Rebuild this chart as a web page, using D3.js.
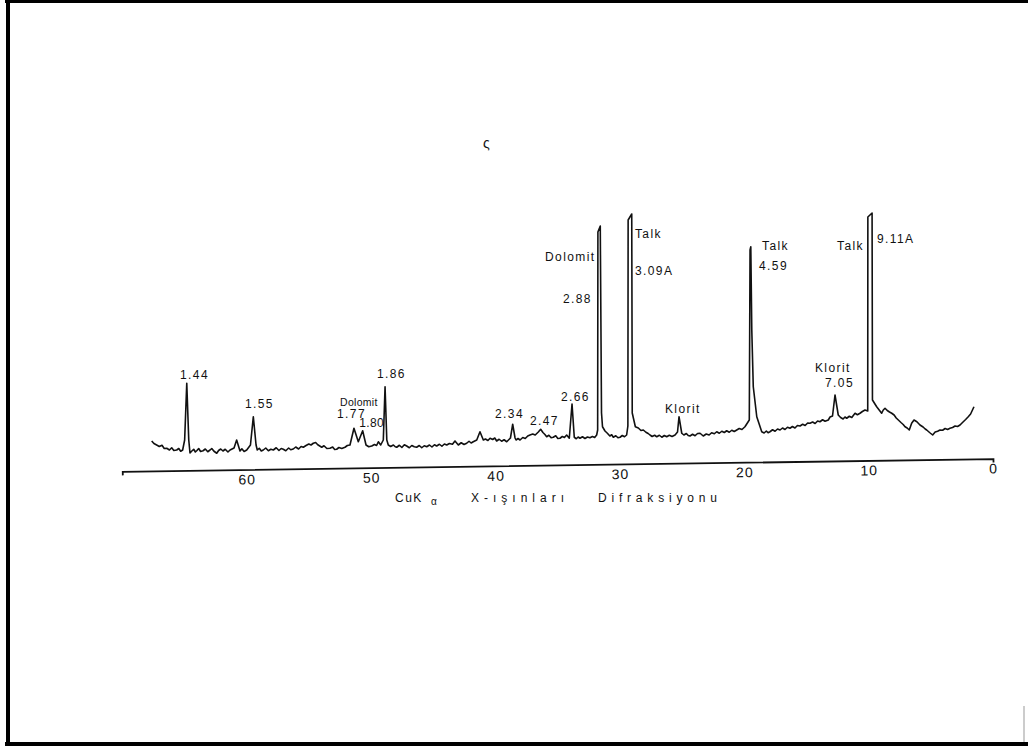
<!DOCTYPE html>
<html>
<head>
<meta charset="utf-8">
<script src="https://cdn.jsdelivr.net/npm/d3@7"></script>
<style>
  html, body { margin: 0; padding: 0; background: #fff; }
  svg { display: block; }
  text { font-family: "Liberation Sans", Arial, sans-serif; fill: #111; }
</style>
</head>
<body>
<svg id="chart" width="1028" height="748"></svg>
<script>
// ---- data: 2-theta (degrees, CuKα) and relative intensity ----
const twoTheta = [
  67.63, 67.45, 67.23, 67.02, 66.80, 66.62, 66.42, 66.20, 66.02, 65.85,
  65.62, 65.45, 65.30, 65.14, 64.98, 64.81, 64.65, 64.55, 64.42, 64.25,
  64.12, 64.01, 63.85, 63.70, 63.50, 63.32, 63.12, 62.94, 62.80, 62.62,
  62.40, 62.25, 62.08, 61.90, 61.72, 61.50, 61.33, 61.01, 60.80, 60.53,
  60.38, 60.20, 59.99, 59.69, 59.46, 59.24, 59.14, 58.98, 58.82, 58.66,
  58.46, 58.25, 58.05, 57.85, 57.62, 57.40, 57.22, 57.05, 56.85, 56.62,
  56.45, 56.25, 56.05, 55.82, 55.62, 55.44, 55.22, 55.00, 54.82, 54.64,
  54.45, 54.28, 54.12, 53.96, 53.78, 53.55, 53.30, 53.08, 52.92, 52.76,
  52.58, 52.35, 52.09, 51.90, 51.69, 51.37, 51.02, 50.67, 50.40, 50.18,
  49.94, 49.72, 49.55, 49.41, 49.22, 49.01, 48.87, 48.73, 48.61, 48.42,
  48.20, 48.05, 47.93, 47.72, 47.52, 47.32, 47.13, 46.92, 46.72, 46.52,
  46.33, 46.12, 45.92, 45.72, 45.52, 45.30, 45.10, 44.90, 44.72, 44.50,
  44.30, 44.10, 43.91, 43.70, 43.45, 43.25, 42.98, 42.75, 42.52, 42.31,
  42.12, 41.95, 41.78, 41.50, 41.24, 40.97, 40.80, 40.60, 40.43, 40.22,
  40.05, 39.90, 39.70, 39.50, 39.30, 39.09, 38.79, 38.61, 38.42, 38.34,
  38.18, 38.02, 37.80, 37.60, 37.40, 37.22, 37.00, 36.80, 36.55, 36.36,
  36.18, 36.02, 35.88, 35.70, 35.52, 35.35, 35.15, 34.98, 34.81, 34.62,
  34.45, 34.27, 34.06, 33.84, 33.66, 33.50, 33.35, 33.20, 33.00, 32.80,
  32.60, 32.40, 32.20, 32.02, 31.86, 31.78, 31.76, 31.57, 31.47, 31.39,
  31.19, 31.00, 30.80, 30.65, 30.52, 30.32, 30.15, 29.98, 29.80, 29.62,
  29.45, 29.35, 29.33, 29.04, 29.00, 28.75, 28.51, 28.30, 28.11, 27.90,
  27.72, 27.57, 27.40, 27.20, 27.03, 26.82, 26.62, 26.42, 26.23, 26.02,
  25.80, 25.56, 25.36, 25.24, 25.02, 24.85, 24.65, 24.50, 24.36, 24.15,
  23.95, 23.75, 23.55, 23.29, 23.05, 22.82, 22.62, 22.40, 22.21, 22.00,
  21.80, 21.60, 21.41, 21.20, 21.00, 20.80, 20.60, 20.40, 20.18, 19.94,
  19.59, 19.53, 19.47, 19.39, 19.27, 18.99, 18.59, 18.40, 18.22, 18.08,
  17.93, 17.72, 17.52, 17.32, 17.12, 16.92, 16.72, 16.52, 16.32, 16.12,
  15.92, 15.72, 15.51, 15.30, 15.10, 14.90, 14.71, 14.50, 14.30, 14.10,
  13.91, 13.70, 13.50, 13.24, 13.10, 12.90, 12.70, 12.44, 12.25, 12.05,
  11.90, 11.76, 11.55, 11.35, 11.20, 11.09, 10.90, 10.69, 10.50, 10.29,
  10.07, 10.06, 9.72, 9.69, 9.35, 9.15, 8.95, 8.82, 8.68, 8.50,
  8.32, 8.14, 7.95, 7.78, 7.61, 7.40, 7.22, 7.07, 6.90, 6.73,
  6.54, 6.35, 6.12, 5.87, 5.62, 5.45, 5.33, 5.10, 4.85, 4.65,
  4.45, 4.26, 4.05, 3.85, 3.65, 3.46, 3.25, 3.05, 2.85, 2.65,
  2.45, 2.20, 1.99, 1.80, 1.53
];
const intensity = [
  9.6, 8.6, 8.0, 7.4, 7.9, 6.6, 6.7, 6.0, 6.9, 5.8,
  6.0, 6.6, 5.5, 6.0, 10.0, 32.7, 10.0, 4.8, 5.5, 6.3,
  5.2, 5.7, 6.6, 5.4, 5.7, 6.4, 5.3, 6.0, 6.6, 5.5,
  4.7, 5.8, 6.4, 5.6, 6.3, 5.2, 6.0, 6.8, 10.0, 5.6,
  6.5, 5.4, 6.0, 8.0, 19.3, 8.0, 6.0, 6.7, 5.6, 6.0,
  6.8, 5.7, 6.3, 6.0, 6.9, 5.8, 6.6, 6.3, 5.7, 6.8,
  6.1, 6.4, 7.2, 6.4, 7.4, 7.1, 7.8, 8.4, 8.0, 8.7,
  9.0, 8.1, 7.6, 7.1, 7.7, 6.6, 6.7, 7.2, 6.2, 6.3,
  7.0, 6.6, 7.1, 7.8, 8.0, 14.7, 9.3, 13.7, 8.0, 7.3,
  7.6, 8.2, 7.8, 9.3, 8.0, 10.0, 31.3, 10.0, 8.0, 7.4,
  8.0, 7.3, 7.1, 7.9, 7.0, 8.1, 7.6, 6.9, 7.8, 7.3,
  7.1, 7.8, 6.9, 7.7, 7.3, 8.0, 7.2, 8.1, 7.6, 8.3,
  7.5, 8.4, 8.0, 8.6, 8.3, 9.6, 8.0, 8.9, 8.2, 8.7,
  9.5, 8.8, 9.3, 10.0, 13.3, 10.0, 10.4, 9.8, 10.7, 10.2,
  10.8, 9.6, 10.3, 9.5, 10.1, 9.3, 10.8, 16.3, 10.8, 10.0,
  10.6, 10.0, 11.0, 10.6, 11.6, 12.0, 12.4, 12.0, 13.2, 14.3,
  13.0, 12.2, 11.3, 11.9, 10.9, 11.1, 11.7, 10.6, 10.7, 11.4,
  11.0, 12.0, 10.7, 24.4, 11.1, 10.5, 11.2, 10.7, 11.3, 10.6,
  11.2, 10.9, 11.4, 11.0, 12.0, 14.0, 93.2, 95.6, 20.8, 15.3,
  13.6, 12.7, 11.6, 12.1, 11.1, 11.7, 10.9, 11.1, 11.8, 11.3,
  12.0, 15.6, 98.0, 100.4, 20.8, 15.3, 14.8, 13.8, 14.0, 13.1,
  12.6, 12.0, 11.4, 11.9, 11.3, 11.9, 11.1, 11.8, 11.3, 11.9,
  11.4, 12.0, 13.2, 19.3, 12.7, 12.0, 12.6, 11.8, 11.6, 12.3,
  11.7, 12.6, 12.7, 11.6, 12.4, 12.0, 12.9, 12.5, 13.3, 12.7,
  13.5, 13.0, 13.7, 13.1, 13.9, 13.4, 14.0, 14.6, 14.2, 15.3,
  18.0, 86.0, 87.3, 54.0, 31.3, 19.3, 13.3, 12.8, 13.6, 12.9,
  13.3, 14.1, 13.5, 14.4, 14.0, 14.8, 14.2, 15.1, 14.7, 15.4,
  14.8, 15.8, 15.6, 16.3, 15.8, 16.8, 16.7, 17.2, 16.6, 17.6,
  17.3, 18.1, 17.5, 18.0, 19.2, 19.6, 28.0, 20.0, 19.0, 18.4,
  19.2, 18.7, 19.5, 19.0, 20.0, 20.7, 20.1, 20.7, 21.4, 22.0,
  21.6, 99.2, 100.8, 26.0, 23.3, 22.0, 20.7, 22.0, 22.7, 21.8,
  21.2, 20.7, 20.0, 18.8, 18.0, 17.0, 16.2, 15.3, 14.8, 14.0,
  16.7, 18.0, 17.3, 16.0, 15.2, 14.4, 14.0, 13.0, 12.0, 13.2,
  13.5, 14.0, 13.9, 14.6, 14.2, 14.7, 15.0, 15.6, 15.4, 16.0,
  17.0, 18.2, 19.3, 20.4, 23.3
];

// peak annotations (text, 2-theta anchor, intensity anchor)
const labelText  = ["1.44", "1.55", "Dolomit", "1.77", "1.80", "1.86", "2.34", "2.47", "2.66",
                    "Dolomit", "2.88", "Talk", "3.09A", "Klorit", "Talk", "4.59", "Klorit", "7.05",
                    "Talk", "9.11A"];
const labelTheta = [65.35, 60.13, 52.49, 52.73, 50.95, 49.52, 40.03, 37.22, 34.73,
                    36.01, 34.57, 28.78, 28.78, 26.37, 18.57, 18.81, 14.31, 13.50,
                    12.54, 9.32];
const labelInt   = [34.4, 22.8, 23.6, 18.8, 15.2, 34.8, 18.8, 16.0, 25.6,
                    81.6, 64.8, 90.8, 76.0, 20.8, 86.0, 78.0, 37.2, 31.2,
                    86.0, 88.8];

const tickValues = [60, 50, 40, 30, 20, 10, 0];
const axisTitleParts = ["CuK", "α", "X-ışınları", "Difraksiyonu"];

// ---- drawing ----
const svg = d3.select("#chart");

// page frame of the scan
svg.append("line").attr("x1", 5).attr("x2", 1028).attr("y1", 1.5).attr("y2", 1.5)
  .attr("stroke", "#000").attr("stroke-width", 3);
svg.append("line").attr("x1", 8).attr("x2", 8).attr("y1", 0).attr("y2", 746)
  .attr("stroke", "#000").attr("stroke-width", 4);
svg.append("line").attr("x1", 5).attr("x2", 1028).attr("y1", 744).attr("y2", 744)
  .attr("stroke", "#000").attr("stroke-width", 4);
svg.append("line").attr("x1", 1024).attr("x2", 1024).attr("y1", 706).attr("y2", 742)
  .attr("stroke", "#999").attr("stroke-width", 1);

const x = d3.scaleLinear().domain([70, 0]).range([122.2, 993]);
const y = d3.scaleLinear().domain([0, 100]).range([465, 215]);

// diffractogram trace
const pts = twoTheta.map((t, i) => [t, intensity[i]]);
const line = d3.line().x(d => x(d[0])).y(d => y(d[1]));
svg.append("path")
  .datum(pts)
  .attr("d", line)
  .attr("fill", "none")
  .attr("stroke", "#111")
  .attr("stroke-width", 1.6)
  .attr("stroke-linejoin", "round");

// hand-drawn 2-theta axis (slightly skewed in the scan)
const axisG = svg.append("g")
  .attr("transform", `rotate(-0.84 557 ${y(0)}) translate(0 ${y(0)})`);
axisG.call(d3.axisBottom(x).tickValues(tickValues).tickFormat(d3.format("d"))
  .tickSizeInner(0).tickSizeOuter(4).tickPadding(5));
axisG.select(".domain").attr("stroke", "#111").attr("stroke-width", 1.8);
axisG.selectAll(".tick text")
  .attr("font-family", "Liberation Sans, Arial, sans-serif")
  .attr("font-size", 14).attr("letter-spacing", 1).attr("fill", "#222");

// axis title
const title = svg.append("text").attr("y", 502).attr("font-size", 12).attr("fill", "#222");
title.append("tspan").attr("x", 395).attr("letter-spacing", 1.5).text(axisTitleParts[0]);
title.append("tspan").attr("x", 431).attr("dy", 3).attr("font-size", 10).text(axisTitleParts[1]);
title.append("tspan").attr("x", 471).attr("dy", -3).attr("letter-spacing", 5).text(axisTitleParts[2]);
title.append("tspan").attr("x", 598).attr("letter-spacing", 4.8).text(axisTitleParts[3]);

// peak labels
svg.append("g").selectAll("text")
  .data(labelText)
  .join("text")
  .attr("x", (d, i) => x(labelTheta[i]))
  .attr("y", (d, i) => y(labelInt[i]))
  .attr("font-size", (d, i) => i === 2 ? 10.5 : 12)
  .attr("letter-spacing", (d, i) => i === 2 ? 0.3 : (i === 4 ? 0.4 : 1.4))
  .text(d => d);

// stray pencil mark near top of the sheet
svg.append("text").attr("x", 483).attr("y", 148).attr("font-size", 14).attr("fill", "#555").text("ς");
</script>
</body>
</html>
